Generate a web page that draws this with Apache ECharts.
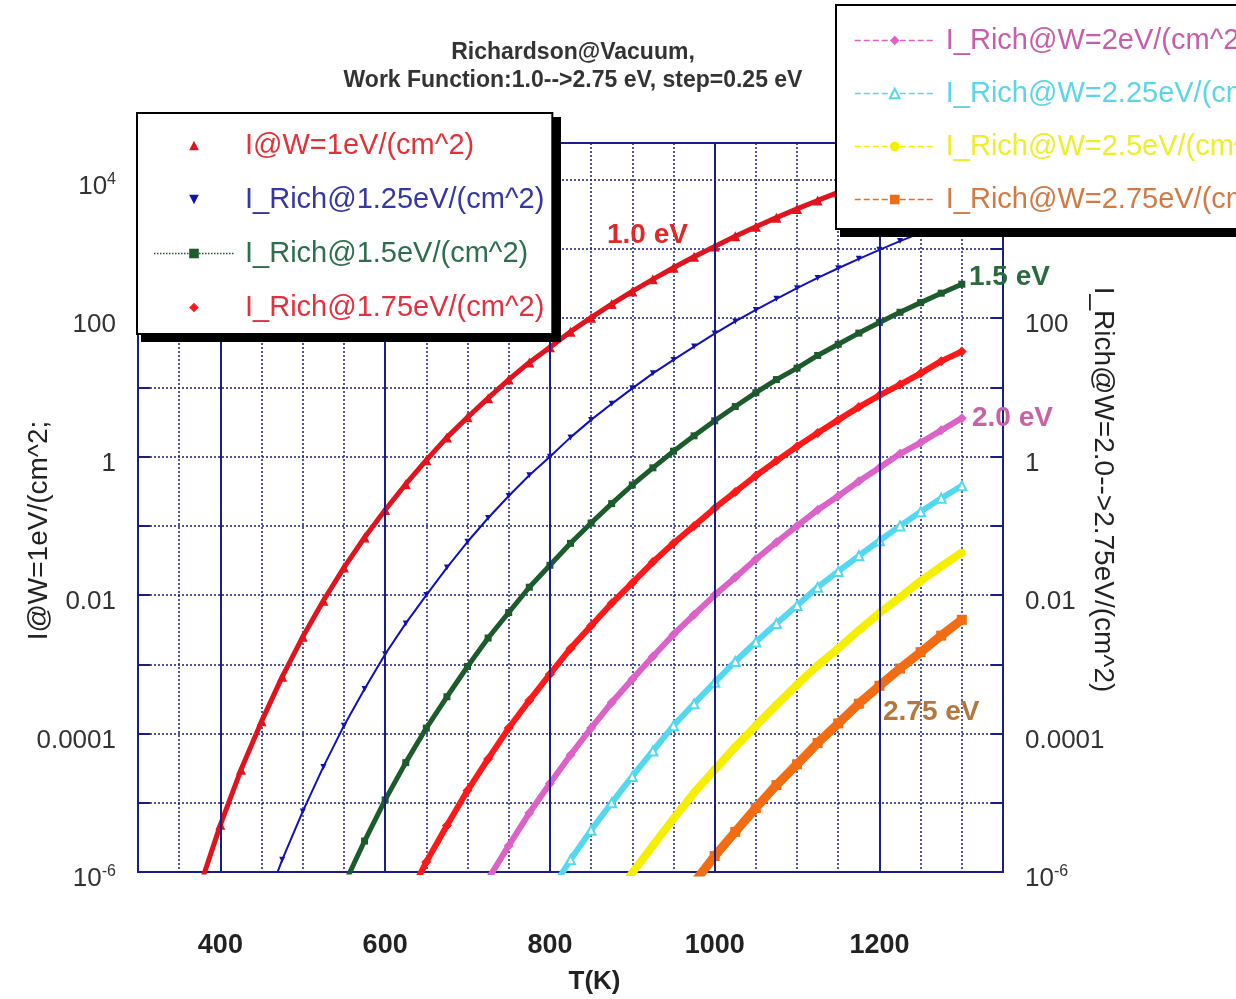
<!DOCTYPE html>
<html>
<head>
<meta charset="utf-8">
<script src="https://cdn.jsdelivr.net/npm/echarts@6/dist/echarts.min.js"></script>
<style>
html, body {margin:0; padding:0; background:#fff;}
#main {width:1236px; height:999px;}
</style>
</head>
<body>
<div id="main"></div>
<script>
// temperature samples (K)
var temps = [375,400,425,450,475,500,525,550,575,600,625,650,675,700,725,750,775,800,825,850,
             875,900,925,950,975,1000,1025,1050,1075,1100,1125,1150,1175,1200,1225,1250,1275,1300];

// current density (A/cm^2), null = curve not started yet
var w100 = [6.1e-7,4.8e-6,3.0e-5,1.5e-4,6.6e-4,2.5e-3,8.3e-3,0.025,0.068,0.17,0.40,0.89,1.9,3.7,7.0,13,23,38,64,102,
            160,244,365,537,773,1090,1530,2100,2840,3800,5030,6570,8510,10900,13900,17400,21700,26900];
var w125 = [null,null,null,2.4e-7,1.5e-6,7.5e-6,3.3e-5,1.3e-4,4.4e-4,1.4e-3,3.9e-3,0.010,0.025,0.059,0.13,0.27,0.54,1.0,1.9,3.4,
            5.8,9.7,16,25,39,60,90,132,191,272,382,527,721,972,1300,1710,2230,2890];
var w150 = [null,null,null,null,null,null,null,6.5e-7,2.8e-6,1.1e-5,3.8e-5,1.2e-4,3.4e-4,9.3e-4,2.4e-3,5.6e-3,0.013,0.027,0.056,0.11,
            0.21,0.39,0.69,1.2,2.0,3.3,5.3,8.4,13,19,29,42,61,87,122,168,230,310];
var w175 = [null,null,null,null,null,null,null,null,null,null,3.6e-7,1.4e-6,4.7e-6,1.5e-5,4.3e-5,1.2e-4,3.0e-4,7.2e-4,1.7e-3,3.6e-3,
            7.6e-3,0.015,0.030,0.056,0.10,0.18,0.31,0.53,0.87,1.4,2.2,3.4,5.2,7.7,11,16,24,33];
var w200 = [null,null,null,null,null,null,null,null,null,null,null,null,null,null,7.9e-7,2.4e-6,7.1e-6,1.9e-5,4.9e-5,1.2e-4,
            2.8e-4,6.1e-4,1.3e-3,2.7e-3,5.2e-3,0.010,0.018,0.033,0.058,0.10,0.17,0.27,0.44,0.69,1.1,1.6,2.4,3.6];
var w225 = [null,null,null,null,null,null,null,null,null,null,null,null,null,null,null,null,null,5.1e-7,1.5e-6,4.0e-6,
            1.0e-5,2.4e-5,5.6e-5,1.3e-4,2.7e-4,5.5e-4,1.1e-3,2.1e-3,3.9e-3,7.1e-3,0.013,0.022,0.037,0.061,0.10,0.16,0.25,0.38];
var w250 = [null,null,null,null,null,null,null,null,null,null,null,null,null,null,null,null,null,null,null,null,
            3.7e-7,9.7e-7,2.4e-6,5.9e-6,1.4e-5,3.0e-5,6.4e-5,1.3e-4,2.6e-4,5.1e-4,9.6e-4,1.7e-3,3.1e-3,5.5e-3,9.3e-3,0.016,0.026,0.041];
var w275 = [null,null,null,null,null,null,null,null,null,null,null,null,null,null,null,null,null,null,null,null,
            null,null,null,null,7.0e-7,1.7e-6,3.8e-6,8.4e-6,1.8e-5,3.6e-5,7.3e-5,1.4e-4,2.7e-4,4.9e-4,8.7e-4,1.5e-3,2.6e-3,4.4e-3];

var majorTicks = [400, 600, 800, 1000, 1200];

var names = ['I@W=1eV/(cm^2)', 'I_Rich@1.25eV/(cm^2)', 'I_Rich@1.5eV/(cm^2)', 'I_Rich@1.75eV/(cm^2)',
             'I_Rich@W=2eV/(cm^2)', 'I_Rich@W=2.25eV/(cm^2)', 'I_Rich@W=2.5eV/(cm^2)', 'I_Rich@W=2.75eV/(cm^2)'];

var navy = '#1c1c8a';
var font = 'Liberation Sans';

var myChart = echarts.init(document.getElementById('main'));

function pairs(vals) {
    return temps.map(function (t, i) { return [t, vals[i]]; });
}

function curve(idx, vals, color, width, symbol, size, extra) {
    var s = {
        name: names[idx],
        type: 'line',
        yAxisIndex: idx < 4 ? 0 : 1,
        data: pairs(vals),
        color: color,
        symbol: symbol,
        symbolSize: size,
        showSymbol: true,
        lineStyle: {width: width, color: color},
        itemStyle: {color: color},
        z: 3
    };
    for (var k in extra) s[k] = extra[k];
    return s;
}

function logLabel(v) {
    var e = Math.log10(v), r = Math.round(e);
    if (Math.abs(e - r) > 1e-6 || r % 2 !== 0) return '';
    if (r <= -6 || r >= 4) return '{b|10}{s|' + r + '}';
    return String(Number(v.toPrecision(1)));
}

var labelRich = {
    b: {fontSize: 26, color: '#333', fontFamily: font},
    s: {fontSize: 16, color: '#333', fontFamily: font, padding: [0, 0, 14, 0]}
};

function yAxisOpt(pos, name, rot, gap, namePad) {
    return {
        type: 'log',
        position: pos,
        min: 1e-6,
        max: 3.4e4,
        interval: 1,
        name: name,
        nameLocation: 'middle',
        nameGap: gap,
        nameRotate: rot,
        nameMoveOverlap: false,
        nameTextStyle: {fontSize: 28, color: '#222', fontFamily: font, padding: namePad},
        axisLine: {show: true, lineStyle: {color: navy, width: 2}},
        axisTick: {show: true, inside: true, length: 12, lineStyle: {color: navy, width: 2}},
        axisLabel: {formatter: logLabel, rich: labelRich, margin: 22, padding: [14, 0, 0, 0],
                    fontSize: 26, color: '#333', fontFamily: font},
        splitLine: {show: pos === 'left', lineStyle: {color: navy, type: [2, 2], width: 1.5}}
    };
}

option = {
    backgroundColor: '#fff',
    animation: false,
    grid: {left: 138, right: 233, top: 143, bottom: 127, outerBoundsMode: 'none', containLabel: false,
           show: true, borderColor: navy, borderWidth: 2},
    xAxis: {
        type: 'value',
        min: 300,
        max: 1350,
        interval: 50,
        name: 'T(K)',
        nameLocation: 'middle',
        nameGap: 97,
        nameMoveOverlap: false,
        nameTextStyle: {fontSize: 26, fontWeight: 'bold', color: '#222', fontFamily: font, padding: [0, 0, 0, 48]},
        axisLine: {show: true, lineStyle: {color: navy, width: 2}},
        axisTick: {show: false},
        axisLabel: {
            margin: 60,
            fontSize: 27,
            fontWeight: 'bold',
            color: '#222',
            fontFamily: font,
            formatter: function (v) { return v % 200 === 0 ? String(v) : ''; }
        },
        splitLine: {show: true, lineStyle: {color: navy, type: [2, 2], width: 1.5}}
    },
    yAxis: [
        yAxisOpt('left', 'I@W=1eV/(cm^2;', 90, 85, [0, 46, 0, 0]),
        yAxisOpt('right', 'I_Rich@W=2.0-->2.75eV/(cm^2)', -90, 86, [0, 36, 0, 0])
    ],
    legend: [{
        orient: 'vertical',
        left: 137,
        top: 113,
        z: 10,
        padding: [18, 8, 12, 16],
        itemWidth: 80,
        itemHeight: 12,
        itemGap: 25,
        backgroundColor: '#fff',
        borderColor: '#000',
        borderWidth: 2,
        textStyle: {fontSize: 29, fontFamily: font, padding: [0, 0, 0, 6]},
        data: [
            {name: names[0], lineStyle: {opacity: 0}, textStyle: {color: '#e23238'}},
            {name: names[1], lineStyle: {opacity: 0}, textStyle: {color: '#3636a4'}},
            {name: names[2], lineStyle: {type: 'dotted', width: 1.5}, textStyle: {color: '#2c6e4e'}},
            {name: names[3], lineStyle: {opacity: 0}, textStyle: {color: '#e2303e'}}
        ]
    }, {
        orient: 'vertical',
        left: 836,
        top: 5,
        z: 10,
        padding: [21, 14, 15, 18],
        itemWidth: 80,
        itemHeight: 12,
        itemGap: 24,
        backgroundColor: '#fff',
        borderColor: '#000',
        borderWidth: 2,
        textStyle: {fontSize: 29, fontFamily: font, padding: [0, 0, 0, 6]},
        data: [
            {name: names[4], lineStyle: {type: 'dashed', width: 1.5}, textStyle: {color: '#c85eaa'}},
            {name: names[5], lineStyle: {type: 'dashed', width: 1.5}, textStyle: {color: '#5cd6e6'}},
            {name: names[6], lineStyle: {type: 'dashed', width: 1.5}, textStyle: {color: '#eeee2a'}},
            {name: names[7], lineStyle: {type: 'dashed', width: 1.5}, textStyle: {color: '#d07a44'}}
        ]
    }],
    graphic: [
        // heavy drop shadows behind the two legend boxes
        {type: 'rect', z: 9, silent: true, shape: {x: 141, y: 117, width: 420, height: 225}, style: {fill: '#000'}},
        {type: 'rect', z: 9, silent: true, shape: {x: 840, y: 9, width: 420, height: 228}, style: {fill: '#000'}},
        {type: 'text', z: 20, style: {x: 573, y: 39, text: 'Richardson@Vacuum,\nWork Function:1.0-->2.75 eV, step=0.25 eV',
            align: 'center', verticalAlign: 'top', fill: '#333', font: 'bold 23px "Liberation Sans"', lineHeight: 28}},
        {type: 'text', z: 5, style: {x: 607, y: 235, text: '1.0 eV', verticalAlign: 'middle', fill: '#e02828', font: 'bold 28px "Liberation Sans"'}},
        {type: 'text', z: 5, style: {x: 969, y: 277, text: '1.5 eV', verticalAlign: 'middle', fill: '#2a6a3c', font: 'bold 28px "Liberation Sans"'}},
        {type: 'text', z: 5, style: {x: 972, y: 418, text: '2.0 eV', verticalAlign: 'middle', fill: '#c862a8', font: 'bold 28px "Liberation Sans"'}},
        {type: 'text', z: 5, style: {x: 883, y: 712, text: '2.75 eV', verticalAlign: 'middle', fill: '#b4783e', font: 'bold 28px "Liberation Sans"'}}
    ],
    series: [
        {
            name: 'grid-major',
            type: 'line',
            data: [],
            z: 1,
            silent: true,
            markLine: {
                silent: true,
                symbol: 'none',
                label: {show: false},
                lineStyle: {color: navy, type: 'solid', width: 2},
                data: majorTicks.map(function (t) { return {xAxis: t}; })
            }
        },
        curve(0, w100, '#e0141c', 5, 'triangle', 10, {}),
        curve(1, w125, '#1212b4', 2, 'triangle', 6, {symbolRotate: 180}),
        curve(2, w150, '#1c5c2c', 5, 'rect', 7, {}),
        curve(3, w175, '#ff1818', 6, 'diamond', 10, {}),
        curve(4, w200, '#dc62c8', 6, 'diamond', 10, {}),
        curve(5, w225, '#54d8f0', 6, 'emptyTriangle', 9, {}),
        curve(6, w250, '#f6f000', 8, 'circle', 8, {}),
        curve(7, w275, '#f26c14', 9, 'rect', 10, {})
    ]
};

myChart.setOption(option);
</script>
</body>
</html>
